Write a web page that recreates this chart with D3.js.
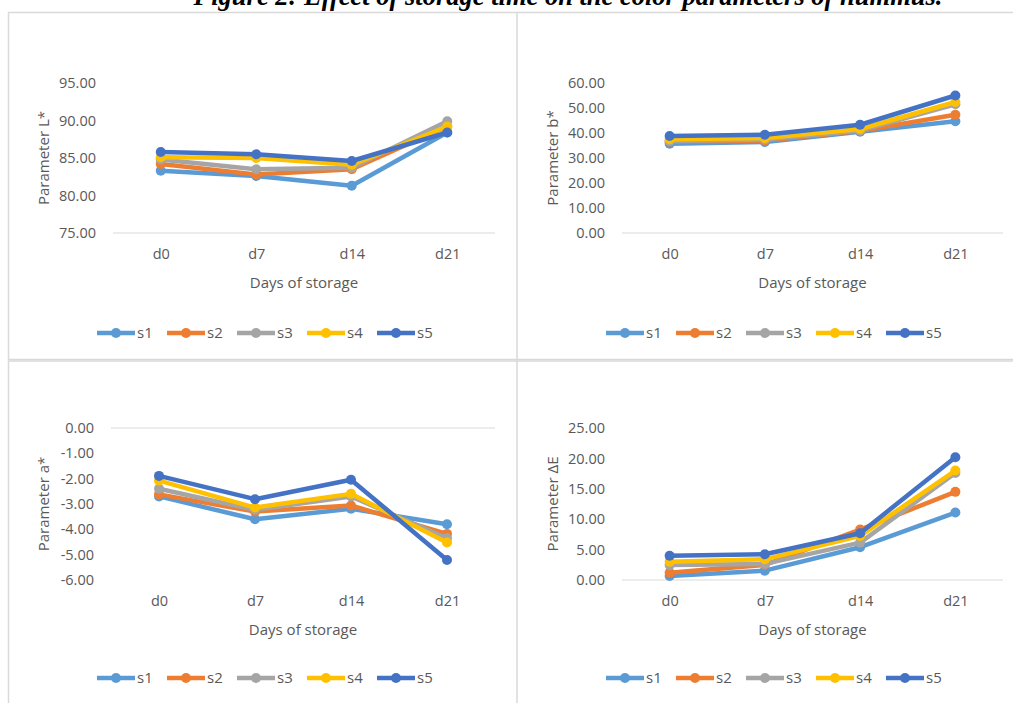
<!DOCTYPE html>
<html>
<head>
<meta charset="utf-8">
<script src="https://cdn.jsdelivr.net/npm/d3@7"></script>
<style>
  body { margin: 0; background: #fff; }
  text { font-family: "Open Sans", "Noto Sans", sans-serif; fill: #595959; }
</style>
</head>
<body>
<div id="chart"></div>
<script>
// chart data
let days = ["d0", "d7", "d14", "d21"];
let seriesNames = ["s1", "s2", "s3", "s4", "s5"];
let seriesColors = ["#5B9BD5", "#ED7D31", "#A5A5A5", "#FFC000", "#4472C4"];

// Parameter L*
let lValues = [
  [83.3, 82.6, 81.3, 88.4],
  [84.2, 82.8, 83.5, 89.2],
  [84.8, 83.5, 83.7, 89.9],
  [85.1, 85.0, 84.1, 89.2],
  [85.8, 85.5, 84.6, 88.4]
];
let lTicks = [75, 80, 85, 90, 95];

// Parameter b*
let bValues = [
  [35.7, 36.4, 40.5, 44.7],
  [36.5, 37.0, 40.8, 47.3],
  [36.8, 37.4, 41.0, 51.5],
  [37.5, 38.0, 41.6, 52.4],
  [38.8, 39.3, 43.3, 55.0]
];
let bTicks = [0, 10, 20, 30, 40, 50, 60];

// Parameter a*
let aValues = [
  [-2.70, -3.60, -3.19, -3.80],
  [-2.62, -3.30, -3.06, -4.18],
  [-2.40, -3.23, -2.70, -4.35],
  [-2.08, -3.14, -2.60, -4.52],
  [-1.89, -2.81, -2.04, -5.21]
];
let aTicks = [0, -1, -2, -3, -4, -5, -6];

// Parameter dE
let eValues = [
  [0.66, 1.54, 5.39, 11.1],
  [1.20, 2.50, 8.30, 14.5],
  [2.45, 2.65, 6.15, 17.6],
  [3.00, 3.40, 7.25, 18.0],
  [4.00, 4.23, 7.70, 20.2]
];
let eTicks = [0, 5, 10, 15, 20, 25];

let svgWidth = 1013;
let svgHeight = 703;

let svg = d3.select("#chart")
  .append("svg")
  .attr("width", svgWidth)
  .attr("height", svgHeight);

// title (cut off at the top in the original)
svg.append("text")
  .attr("x", 568)
  .attr("y", 5)
  .attr("text-anchor", "middle")
  .style("font-family", "'Liberation Serif', 'Times New Roman', serif")
  .style("font-weight", "bold")
  .style("font-style", "italic")
  .style("font-size", "26.5px")
  .style("fill", "#000")
  .text("Figure 2: Effect of storage time on the color parameters of hummus.");

// panel borders
let borderColor = "#D9D9D9";
svg.append("rect").attr("x", 8.5).attr("y", 12.5).attr("width", 1020).attr("height", 347)
  .attr("fill", "none").attr("stroke", borderColor).attr("stroke-width", 1.5);
svg.append("rect").attr("x", 8.5).attr("y", 361).attr("width", 1020).attr("height", 360)
  .attr("fill", "none").attr("stroke", borderColor).attr("stroke-width", 1.5);
svg.append("line").attr("x1", 517).attr("x2", 517).attr("y1", 12).attr("y2", 703)
  .attr("stroke", borderColor).attr("stroke-width", 1.5);

let fmt = d => d.toFixed(2).replace("\u2212", "-");

function drawPanel(opts) {
  let g = svg.append("g");

  let x = d3.scalePoint()
    .domain(days)
    .range([opts.left, opts.right])
    .padding(0.5);

  let y = d3.scaleLinear()
    .domain(opts.domain)
    .range([opts.bottom, opts.top]);

  // y axis labels
  let yAxis = g.append("g")
    .attr("transform", `translate(${opts.left - 14}, 0)`)
    .call(d3.axisLeft(y).tickValues(opts.ticks).tickSize(0).tickFormat(fmt));
  yAxis.select(".domain").remove();
  yAxis.selectAll("text")
    .style("font-size", "14.5px")
    .style("fill", "#595959")
    .style("font-family", "'Open Sans', sans-serif");

  // horizontal axis line at zero / minimum
  g.append("line")
    .attr("x1", opts.left)
    .attr("x2", opts.right)
    .attr("y1", y(opts.baseline))
    .attr("y2", y(opts.baseline))
    .attr("stroke", "#D9D9D9")
    .attr("stroke-width", 1);

  // category labels always below the plot area
  let xAxis = g.append("g")
    .attr("transform", `translate(0, ${opts.bottom + 13})`)
    .call(d3.axisBottom(x).tickSize(0));
  xAxis.select(".domain").remove();
  xAxis.selectAll("text")
    .style("font-size", "14.5px")
    .style("fill", "#595959")
    .style("font-family", "'Open Sans', sans-serif");

  // axis titles
  g.append("text")
    .attr("x", (opts.left + opts.right) / 2)
    .attr("y", opts.bottom + 55)
    .attr("text-anchor", "middle")
    .style("font-size", "15px")
    .text("Days of storage");

  g.append("text")
    .attr("transform", "rotate(-90)")
    .attr("x", -(opts.top + opts.bottom) / 2)
    .attr("y", opts.panelLeft + 41)
    .attr("text-anchor", "middle")
    .style("font-size", "15px")
    .text(opts.yTitle);

  let line = d3.line()
    .x((d, i) => x(days[i]))
    .y(d => y(d));

  opts.values.forEach(function(vals, s) {
    g.append("path")
      .datum(vals)
      .attr("d", line)
      .attr("fill", "none")
      .attr("stroke", seriesColors[s])
      .attr("stroke-width", 4.5)
      .attr("stroke-linejoin", "round");

    g.selectAll(null)
      .data(vals)
      .enter()
      .append("circle")
      .attr("cx", (d, i) => x(days[i]))
      .attr("cy", d => y(d))
      .attr("r", 5)
      .attr("fill", seriesColors[s]);
  });

  // legend
  let legend = g.append("g")
    .attr("transform", `translate(${opts.panelLeft + 89}, ${opts.legendY})`);

  let item = legend.selectAll("g")
    .data(seriesNames)
    .enter()
    .append("g")
    .attr("transform", (d, i) => `translate(${i * 70}, 0)`);

  item.append("line")
    .attr("x1", 0)
    .attr("x2", 38)
    .attr("stroke", (d, i) => seriesColors[i])
    .attr("stroke-width", 4.5);

  item.append("circle")
    .attr("cx", 19)
    .attr("r", 5)
    .attr("fill", (d, i) => seriesColors[i]);

  item.append("text")
    .attr("x", 40)
    .attr("dy", "0.35em")
    .style("font-size", "15px")
    .text(d => d);
}

drawPanel({
  panelLeft: 8, left: 113, right: 495, top: 83, bottom: 233,
  domain: [75, 95], ticks: lTicks, baseline: 75,
  values: lValues, yTitle: "Parameter L*", legendY: 333
});

drawPanel({
  panelLeft: 517, left: 622, right: 1003, top: 83, bottom: 233,
  domain: [0, 60], ticks: bTicks, baseline: 0,
  values: bValues, yTitle: "Parameter b*", legendY: 333
});

drawPanel({
  panelLeft: 8, left: 111, right: 495, top: 428, bottom: 580,
  domain: [-6, 0], ticks: aTicks, baseline: 0,
  values: aValues, yTitle: "Parameter a*", legendY: 678
});

drawPanel({
  panelLeft: 517, left: 622, right: 1003, top: 428, bottom: 580,
  domain: [0, 25], ticks: eTicks, baseline: 0,
  values: eValues, yTitle: "Parameter \u0394E", legendY: 678
});
</script>
</body>
</html>
